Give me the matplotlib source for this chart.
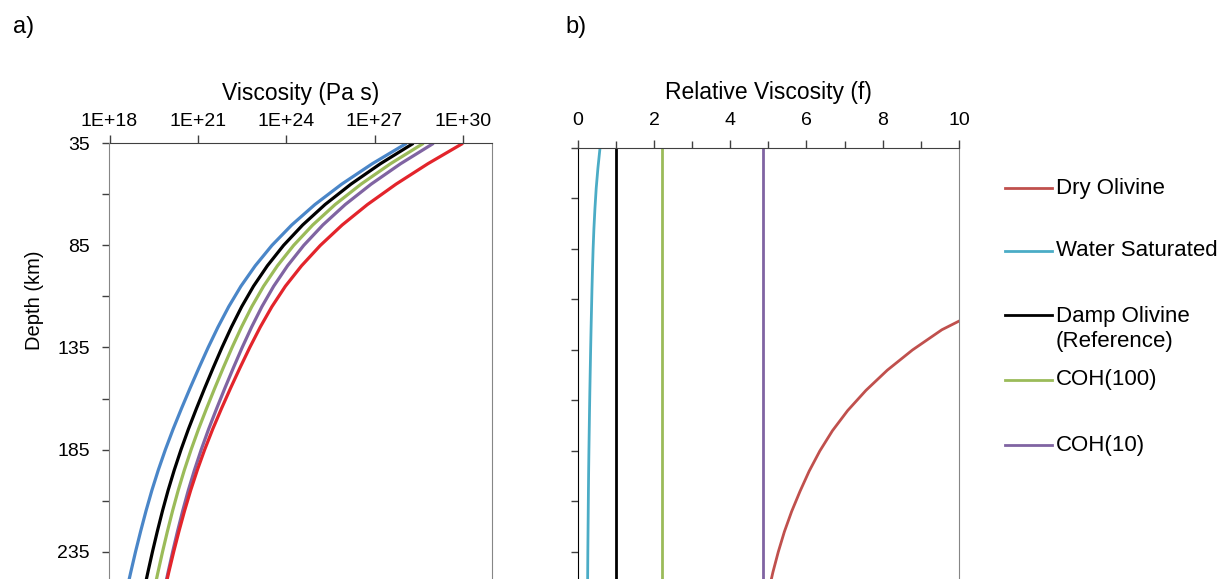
import matplotlib
matplotlib.use("Agg")
import matplotlib.pyplot as plt
from matplotlib.lines import Line2D
from matplotlib.ticker import FixedLocator, NullLocator, NullFormatter

plt.rcParams['font.family'] = ['Liberation Sans', 'DejaVu Sans']

# depth (km) and damp olivine reference viscosity (log10 Pa s)
depth_km = [35, 45, 55, 65, 75, 85, 95, 105, 115, 125, 135, 145, 155, 165, 175, 185,
            195, 205, 215, 225, 235, 245, 250]
damp_log10_visc = [28.32, 27.20, 26.20, 25.32, 24.56, 23.91, 23.36, 22.89, 22.49, 22.14,
                   21.82, 21.52, 21.23, 20.95, 20.68, 20.43, 20.20, 19.99, 19.80, 19.625,
                   19.46, 19.305, 19.23]

# relative viscosity f (viscosity / damp olivine)
f_dry = [48, 41, 34, 27.5, 22.0, 17.8, 14.5, 12.1, 10.6, 9.55, 8.78, 8.12, 7.56, 7.08,
         6.68, 6.35, 6.07, 5.83, 5.61, 5.42, 5.26, 5.12, 5.06]
f_water = [0.585, 0.53, 0.485, 0.452, 0.425, 0.404, 0.388, 0.374, 0.362, 0.350, 0.339,
           0.329, 0.319, 0.310, 0.302, 0.294, 0.287, 0.281, 0.276, 0.271, 0.266, 0.262, 0.260]
f_damp = [1.0, 1.0, 1.0, 1.0, 1.0, 1.0, 1.0, 1.0, 1.0, 1.0, 1.0, 1.0, 1.0, 1.0, 1.0, 1.0,
          1.0, 1.0, 1.0, 1.0, 1.0, 1.0, 1.0]
f_coh100 = [2.2, 2.2, 2.2, 2.2, 2.2, 2.2, 2.2, 2.2, 2.2, 2.2, 2.2, 2.2, 2.2, 2.2, 2.2, 2.2,
            2.2, 2.2, 2.2, 2.2, 2.2, 2.2, 2.2]
f_coh10 = [4.85, 4.85, 4.85, 4.85, 4.85, 4.85, 4.85, 4.85, 4.85, 4.85, 4.85, 4.85, 4.85,
           4.85, 4.85, 4.85, 4.85, 4.85, 4.85, 4.85, 4.85, 4.85, 4.85]

series_names = ["Dry Olivine", "Water Saturated", "Damp Olivine\n(Reference)", "COH(100)", "COH(10)"]
series_f = [f_dry, f_water, f_damp, f_coh100, f_coh10]
colors_a = ["#E3242B", "#4A86C8", "#000000", "#9BBB59", "#8064A2"]
colors_b = ["#C0504D", "#4BACC6", "#000000", "#9BBB59", "#8064A2"]

visc_ticks = [1e18, 1e21, 1e24, 1e27, 1e30]
visc_labels = ["1E+18", "1E+21", "1E+24", "1E+27", "1E+30"]
depth_labels = [35, 85, 135, 185, 235]
depth_minor = [60, 110, 160, 210]

W, H = 1222, 579
fig = plt.figure(figsize=(W / 100, H / 100), dpi=100)


def fx(px):
    return px / W


def fy(py):
    return 1 - py / H


axis_dark = "#404040"
axis_gray = "#868686"

# ---- panel a ----
ax1 = fig.add_axes([fx(109.5), 0, fx(492.3) - fx(109.5), fy(143.3)])
for f, c in zip(series_f[::-1], colors_a[::-1]):
    visc = [10 ** v * k for v, k in zip(damp_log10_visc, f)]
    ax1.plot(visc, depth_km, color=c, lw=2.3, solid_capstyle='butt', solid_joinstyle='round')
ax1.set_xscale('log')
ax1.set_xlim(1e18, 1e31)
ax1.set_ylim(248.4, 35)
ax1.xaxis.set_major_locator(FixedLocator(visc_ticks))
ax1.xaxis.set_minor_locator(NullLocator())
ax1.set_xticklabels(visc_labels)
ax1.xaxis.tick_top()
ax1.xaxis.set_label_position('top')
ax1.set_xlabel("Viscosity (Pa s)", fontsize=16.5, labelpad=9.5)
ax1.set_yticks(depth_labels)
ax1.set_yticks(depth_minor, minor=True)
ax1.tick_params(axis='x', which='major', direction='out', length=6, pad=3.5,
                labelsize=14, color=axis_dark, width=1)
ax1.tick_params(axis='y', which='both', direction='out', length=5, pad=9,
                labelsize=14, color=axis_dark, width=1)
ax1.spines['bottom'].set_visible(False)
ax1.spines['top'].set_color(axis_dark)
ax1.spines['left'].set_color(axis_gray)
ax1.spines['right'].set_color(axis_gray)
fig.text(fx(35), fy(300), "Depth (km)", rotation=90, ha='center', va='center', fontsize=14.5)

# ---- panel b ----
ax2 = fig.add_axes([fx(577.7), 0, fx(959) - fx(577.7), fy(148)])
for f, c in zip(series_f, colors_b):
    ax2.plot(f, depth_km, color=c, lw=2.0, solid_capstyle='butt', solid_joinstyle='round')
ax2.set_xlim(0, 10)
ax2.set_ylim(248.4, 35)
ax2.set_xticks([0, 2, 4, 6, 8, 10])
ax2.set_xticks([1, 3, 5, 7, 9], minor=True)
ax2.xaxis.tick_top()
ax2.xaxis.set_label_position('top')
ax2.set_xlabel("Relative Viscosity (f)", fontsize=16.5, labelpad=9)
ax2.set_yticks(depth_labels + depth_minor)
ax2.yaxis.set_major_formatter(NullFormatter())
ax2.tick_params(axis='x', which='major', direction='out', length=6, pad=8,
                labelsize=14, color=axis_dark, width=1)
ax2.tick_params(axis='x', which='minor', direction='out', length=5, color=axis_dark, width=1)
ax2.tick_params(axis='y', which='both', direction='out', length=5, color=axis_dark, width=1)
ax2.spines['bottom'].set_visible(False)
ax2.spines['top'].set_color(axis_dark)
ax2.spines['left'].set_color("#000000")
ax2.spines['right'].set_color(axis_gray)

# panel letters
fig.text(fx(13), fy(27), "a)", ha='left', va='center', fontsize=17)
fig.text(fx(565), fy(27), "b)", ha='left', va='center', fontsize=17)

# ---- legend ----
legend_y = [188.3, 250.7, 315, 380, 445]
for name, c, yy in zip(series_names, colors_b, legend_y):
    fig.add_artist(Line2D([fx(1005), fx(1052)], [fy(yy), fy(yy)], color=c, lw=2.0,
                          transform=fig.transFigure))
    if '\n' in name:
        fig.text(fx(1056), fy(yy + 14), name, ha='left', va='center', fontsize=16,
                 linespacing=1.28)
    else:
        fig.text(fx(1056), fy(yy), name, ha='left', va='center', fontsize=16)

fig.savefig("out.png", dpi=100)
